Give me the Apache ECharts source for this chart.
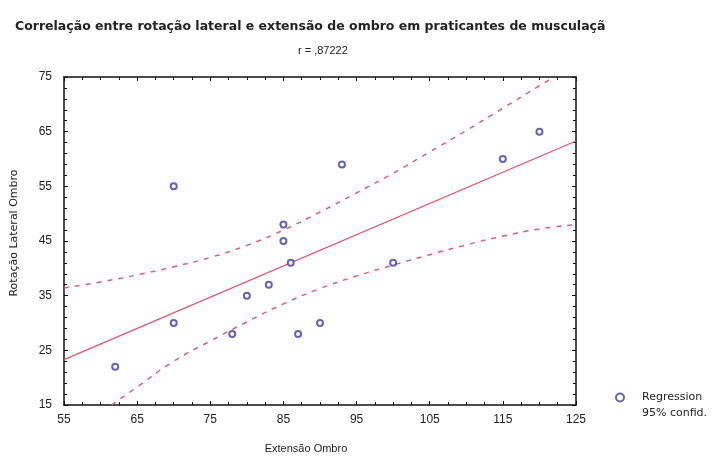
<!DOCTYPE html>
<html>
<head>
<meta charset="utf-8">
<script src="https://cdn.jsdelivr.net/npm/echarts@6/dist/echarts.min.js"></script>
<style>
  body { margin: 0; background: #fff; }
  #chart { width: 727px; height: 459px; }
</style>
</head>
<body>
<div id="chart"></div>
<script>
// observed points
const extensao = [62, 70, 70, 78, 80, 83, 85, 85, 86, 87, 90, 93, 100, 115, 120];
const rotacao  = [22, 55, 30, 28, 35, 37, 48, 45, 41, 28, 30, 59, 41, 60, 65];

// regression line
const regX = [55, 125];
const regY = [23.3, 63.3];

// 95% confidence bands
const upperX = [55, 60, 65, 70, 75, 80, 85, 90, 95, 100, 105, 110, 115, 120, 122];
const upperY = [36.4, 37.5, 38.8, 40.3, 42, 44.2, 47, 50.3, 53.8, 57.4, 61.3, 65.2, 69.3, 73.4, 75];
const lowerX = [61.5, 65, 70, 75, 80, 85, 90, 95, 100, 105, 110, 115, 120, 125];
const lowerY = [15, 18.3, 23, 26.7, 30.2, 33.5, 36.3, 38.6, 40.6, 42.5, 44.3, 45.9, 47.2, 48];

const zip = (xs, ys) => xs.map((x, i) => [x, ys[i]]);

const font = "Liberation Sans, Arial, sans-serif";
const wide = "DejaVu Sans, sans-serif";
const textColor = "#222";

const frameAxis = (extra) => Object.assign({
    type: "value",
    axisLine: { show: true, onZero: false, lineStyle: { color: "#111", width: 1.5 } },
    axisTick: { show: true, inside: true, length: 4, lineStyle: { color: "#111" } },
    splitLine: { show: false },
}, extra);

const chart = echarts.init(document.getElementById("chart"));
chart.setOption({
    backgroundColor: "#fff",
    animation: false,
    title: [
        {
            text: "Correlação entre rotação lateral e extensão de ombro em praticantes de musculaçã",
            left: 10, top: 15,
            textStyle: { fontFamily: wide, fontSize: 12.5, fontWeight: "bold", color: textColor },
        },
        {
            text: "r = ,87222",
            left: 293, top: 40,
            textStyle: { fontFamily: font, fontSize: 11, fontWeight: "normal", color: textColor },
        },
    ],
    grid: { left: 64, right: 151, top: 77, bottom: 54 },
    xAxis: [
        frameAxis({
            min: 55, max: 125, interval: 10,
            minorTick: { show: true, splitNumber: 4, length: 3, lineStyle: { color: "#111" } },
            name: "Extensão Ombro", nameLocation: "middle", nameGap: 38,
            nameTextStyle: { fontFamily: font, fontSize: 11, color: textColor, padding: [0, 28, 0, 0] },
            axisLabel: { fontFamily: font, fontSize: 12, color: textColor, margin: 9 },
        }),
        frameAxis({
            min: 55, max: 125, interval: 10, position: "top",
            minorTick: { show: true, splitNumber: 4, length: 3, lineStyle: { color: "#111" } },
            axisLabel: { show: false },
        }),
    ],
    yAxis: [
        frameAxis({
            min: 15, max: 75, interval: 10,
            minorTick: { show: true, splitNumber: 5, length: 3, lineStyle: { color: "#111" } },
            name: "Rotação Lateral Ombro", nameLocation: "middle", nameGap: 44,
            nameTextStyle: { fontFamily: wide, fontSize: 11, color: textColor, padding: [0, 0, 0, 16] },
            axisLabel: { fontFamily: font, fontSize: 12, color: textColor, margin: 12 },
        }),
        frameAxis({
            min: 15, max: 75, interval: 10, position: "right",
            minorTick: { show: true, splitNumber: 5, length: 3, lineStyle: { color: "#111" } },
            axisLabel: { show: false },
        }),
    ],
    legend: {
        data: ["Regression"],
        left: 610, top: 371,
        icon: "emptyCircle",
        itemWidth: 8, itemHeight: 8,
        formatter: "{t| }\n{t|Regression}\n{t|95% confid.}",
        textStyle: {
            color: textColor,
            rich: { t: { fontFamily: wide, fontSize: 11, lineHeight: 16, padding: [0, 0, 0, 13], color: textColor } },
        },
    },
    series: [
        {
            name: "Regression",
            type: "scatter",
            data: zip(extensao, rotacao),
            symbol: "emptyCircle",
            symbolSize: 6,
            itemStyle: { color: "#3b3fa0", borderWidth: 1.5 },
            z: 5,
        },
        {
            name: "fit",
            type: "line",
            data: zip(regX, regY),
            showSymbol: false,
            lineStyle: { color: "#e2506c", width: 1.2 },
        },
        {
            name: "upper",
            type: "line",
            data: zip(upperX, upperY),
            smooth: true,
            showSymbol: false,
            lineStyle: { color: "#d8607c", width: 1.5, type: [5, 6] },
        },
        {
            name: "lower",
            type: "line",
            data: zip(lowerX, lowerY),
            smooth: true,
            showSymbol: false,
            lineStyle: { color: "#d8607c", width: 1.5, type: [5, 6] },
        },
    ],
});
</script>
</body>
</html>
